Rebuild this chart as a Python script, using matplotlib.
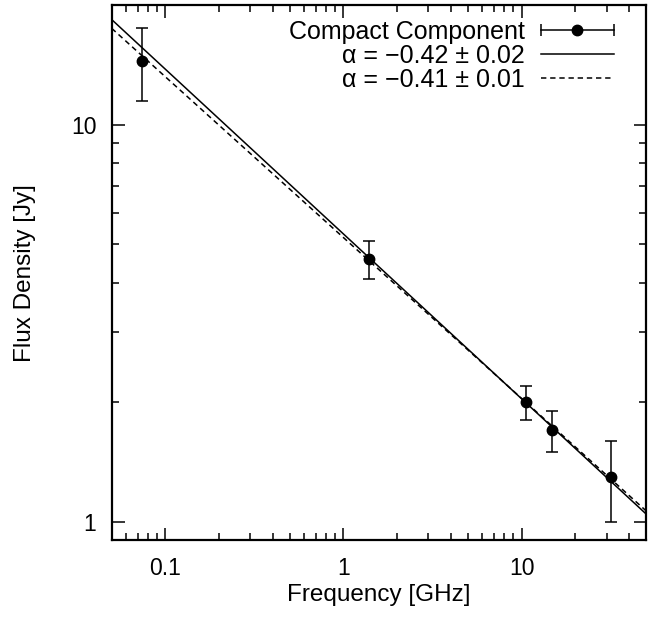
import numpy as np
import matplotlib
matplotlib.use("Agg")
import matplotlib.pyplot as plt
from matplotlib.lines import Line2D
from matplotlib.legend_handler import HandlerBase
from matplotlib.ticker import LogLocator, FixedLocator, NullFormatter

plt.rcParams['font.family'] = ['Liberation Sans', 'DejaVu Sans']

# Data
freq_ghz = [0.074, 1.4, 10.6, 14.8, 32.0]
flux_jy = [14.5, 4.6, 2.0, 1.7, 1.3]
flux_err = [3.0, 0.5, 0.2, 0.2, 0.3]

# Power-law fits S = A * nu^alpha
fit1_amp, fit1_alpha = 5.31, -0.415
fit2_amp, fit2_alpha = 5.20, -0.405

label_data = "Compact Component"
label_fit1 = "α = −0.42 ± 0.02"
label_fit2 = "α = −0.41 ± 0.01"

x_ticks = [0.1, 1, 10]
x_ticklabels = ["0.1", "1", "10"]
y_ticks = [1, 10]
y_ticklabels = ["1", "10"]

FS_TICK = 16.5
FS_LABEL = 17.5
FS_LEG = 18

fig = plt.figure(figsize=(6.59, 6.20), dpi=100)
ax = fig.add_axes([0.1695, 0.129, 0.8108, 0.8625])

nu = np.logspace(np.log10(0.05), np.log10(50), 200)
ax.plot(nu, fit1_amp * nu ** fit1_alpha, color='k', lw=1.1, ls='-', label=label_fit1)
ax.plot(nu, fit2_amp * nu ** fit2_alpha, color='k', lw=1.1, ls=(0, (3.5, 2.5)), label=label_fit2)
eb = ax.errorbar(freq_ghz, flux_jy, yerr=flux_err, fmt='o', color='k', ms=7.5,
                 capsize=4, elinewidth=1.1, capthick=1.1, label=label_data)

ax.set_xscale('log')
ax.set_yscale('log')
ax.set_xlim(0.05, 50)
ax.set_ylim(0.9, 20)

ax.xaxis.set_major_locator(FixedLocator(x_ticks))
ax.set_xticklabels(x_ticklabels)
ax.yaxis.set_major_locator(FixedLocator(y_ticks))
ax.set_yticklabels(y_ticklabels)
ax.xaxis.set_minor_locator(LogLocator(base=10, subs=np.arange(2, 10)))
ax.yaxis.set_minor_locator(LogLocator(base=10, subs=np.arange(2, 10)))
ax.xaxis.set_minor_formatter(NullFormatter())
ax.yaxis.set_minor_formatter(NullFormatter())

ax.tick_params(which='both', direction='in', top=True, right=True, labelsize=FS_TICK, width=1.1)
ax.tick_params(which='major', length=9)
ax.tick_params(axis='x', which='major', pad=12)
ax.tick_params(axis='y', which='major', pad=11)
ax.tick_params(which='minor', length=5)
for s in ax.spines.values():
    s.set_linewidth(1.6)

ax.set_xlabel("Frequency [GHz]", fontsize=FS_LABEL, labelpad=3)
ax.set_ylabel("Flux Density [Jy]", fontsize=FS_LABEL, labelpad=25)


class HandlerHErr(HandlerBase):
    def create_artists(self, legend, orig_handle, xdescent, ydescent,
                       width, height, fontsize, trans):
        y = height / 2 - ydescent
        x0, x1 = -xdescent, -xdescent + width
        line = Line2D([x0, x1], [y, y], color='k', lw=1.1)
        caps = Line2D([x0, x1], [y, y], ls='none', marker='|', ms=8, mew=1.1, color='k')
        dot = Line2D([(x0 + x1) / 2], [y], ls='none', marker='o', ms=7.5, color='k')
        for a in (line, caps, dot):
            a.set_transform(trans)
        return [line, caps, dot]


handles, labels = ax.get_legend_handles_labels()
order = [labels.index(label_data), labels.index(label_fit1), labels.index(label_fit2)]
handles = [handles[i] for i in order]
labels = [labels[i] for i in order]
leg = ax.legend(handles, labels, loc='upper right', frameon=False, markerfirst=False,
                fontsize=FS_LEG, handlelength=2.9, labelspacing=0.0, borderaxespad=0,
                bbox_to_anchor=(0.958, 0.992),
                handletextpad=0.64, handler_map={type(handles[0]): HandlerHErr()})
for t in leg.get_texts():
    t.set_ha('right')

fig.savefig("out.png", dpi=100)
